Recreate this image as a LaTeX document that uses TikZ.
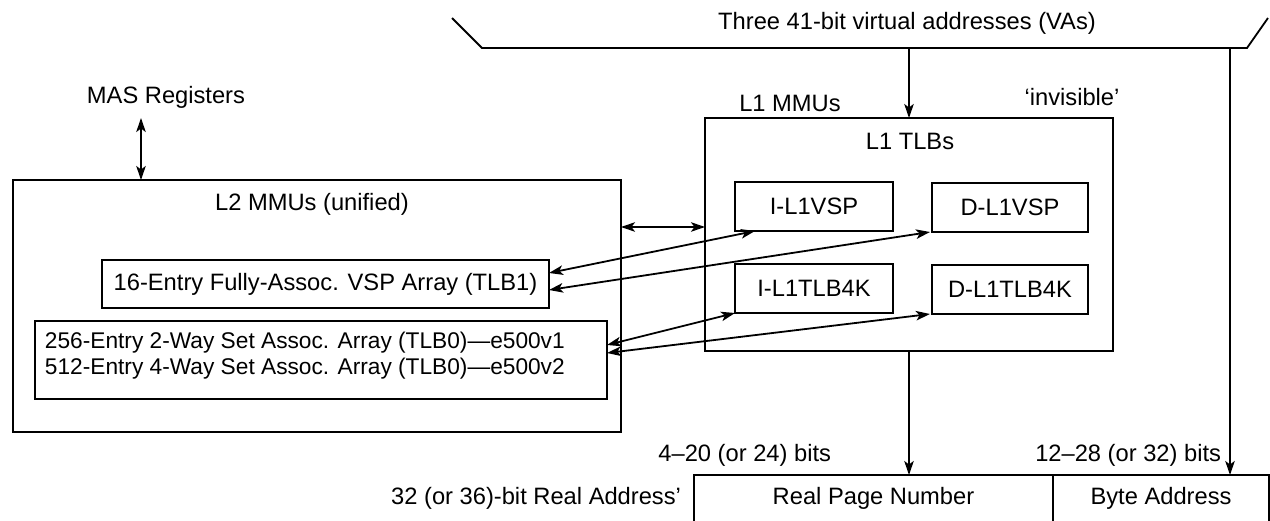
\documentclass[tikz,border=0pt]{standalone}
\usepackage{fontspec}
\setmainfont{Liberation Sans}
\usetikzlibrary{arrows.meta,calc}
\begin{document}
\begin{tikzpicture}[x=1pt,y=-1pt,
  every node/.style={font=\fontsize{23.7}{27}\selectfont, inner sep=0pt, outer sep=0pt},
  box/.style={draw, line width=1.8pt, anchor=north west},
  ln/.style={line width=1.8pt},
  tip/.tip={Stealth[length=14pt,width=9.5pt,inset=3.5pt]},
  arr/.style={ln, -tip},
  darr/.style={ln, tip-tip}]
\useasboundingbox (0,0) rectangle (1270,521);

% top bracket
\node (vas) at (907,23) {Three 41-bit virtual addresses (VAs)};
\coordinate (bl0) at (452,18);
\coordinate (bl1) at (482,48);
\coordinate (br1) at (1247,48);
\coordinate (br0) at (1268,18);
\coordinate (vr) at (1230,48);
\draw[ln] (bl0) -- (bl1) -- (br1) -- (br0);

% L1 MMU
\node[box, minimum width=408pt, minimum height=233pt] (l1) at (705,118) {};
\node (l1mmu) at (790,103) {L1 MMUs};
\node (invis) at (1072,97) {‘invisible’};
\node (l1tlb) at (910,141) {L1 TLBs};
\node[box, minimum width=158pt, minimum height=49pt] (ivsp) at (735,182) {I-L1VSP};
\node[box, minimum width=156pt, minimum height=49pt] (dvsp) at (932,183) {D-L1VSP};
\node[box, minimum width=158pt, minimum height=49pt] (itlb) at (735,264) {I-L1TLB4K};
\node[box, minimum width=156pt, minimum height=49pt] (dtlb) at (932,265) {D-L1TLB4K};

\draw[arr] (l1.north |- bl1) -- (l1.north);

% L2 MMU
\node[box, minimum width=608pt, minimum height=252pt] (l2) at (13,180) {};
\node (l2t) at (312,204) {L2 MMUs (unified)};
\node (mas) at (166,97) {MAS Registers};
\coordinate (masb) at (141,118);
\draw[darr] (masb) -- (masb |- l2.north);
\node[box, minimum width=447pt, minimum height=48pt] (tlb1) at (102,260) {16-Entry Fully-Assoc. VSP Array (TLB1)};
\node[box, minimum width=572pt, minimum height=78pt] (tlb0) at (35,321) {};
\node[anchor=west, align=left, font=\fontsize{22.7}{26}\selectfont] (tlb0t) at (45,356) {256-Entry 2-Way Set Assoc. Array (TLB0)—e500v1\\512-Entry 4-Way Set Assoc. Array (TLB0)—e500v2};

\coordinate (mid) at (0,227);
\draw[darr] (l2.east |- mid) -- (l1.west |- mid);

% connectors between L1 and L2 arrays
\draw[darr] ($(ivsp.south west)+(20,0)$) -- ($(tlb1.east)+(0,-11)$);
\draw[darr] ($(dvsp.south west)+(-2,0)$) -- ($(tlb1.east)+(0,6)$);
\draw[darr] (itlb.south west) -- ($(tlb0.east)+(0,-15)$);
\draw[darr] ($(dtlb.south west)+(-2,0)$) -- ($(tlb0.east)+(0,-7)$);

% real address
\node[anchor=north west, minimum width=359pt, minimum height=46pt] (rpn) at (694,475) {Real Page Number};
\node[anchor=north west, minimum width=216pt, minimum height=46pt] (byte) at (1053,475) {Byte Address};
\draw[ln] (rpn.south west) -- (rpn.north west) -- (byte.north east) -- (byte.south east);
\draw[ln] (byte.north west) -- (byte.south west);
\node[anchor=east] (ra) at (681,498) {32 (or 36)-bit Real Address’};
\node[anchor=east] (bits1) at (831,455) {4–20 (or 24) bits};
\node[anchor=east] (bits2) at (1221,455) {12–28 (or 32) bits};

\draw[arr] (l1.south) -- (l1.south |- rpn.north);
\draw[arr] (vr) -- (vr |- byte.north);
\end{tikzpicture}
\end{document}
